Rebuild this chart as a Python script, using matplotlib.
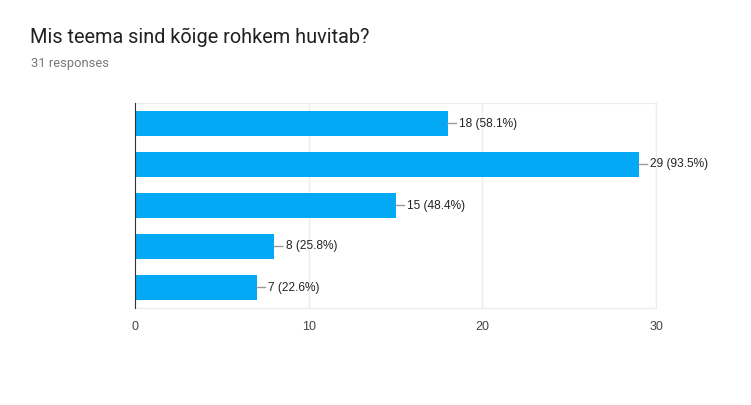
import matplotlib.pyplot as plt
import numpy as np

title = "Mis teema sind kõige rohkem huvitab?"
subtitle = "31 responses"
categories = ["", "", "", "", ""]
counts = [18, 29, 15, 8, 7]
percents = [58.1, 93.5, 48.4, 25.8, 22.6]
xticks = [0, 10, 20, 30]

bar_color = "#03a9f4"
grid_color = "#ebebeb"

fig = plt.figure(figsize=(7.51, 4.05), dpi=100)
ax = fig.add_axes([135 / 751, 97 / 405, 521 / 751, 205 / 405])

y = np.arange(len(counts))
ax.barh(y, counts, height=0.6, color=bar_color, zorder=3)

# value labels with a short leader line
for yi, c, p in zip(y, counts, percents):
    ax.annotate(f"{c} ({p}%)", xy=(c, yi), xytext=(8.5, 0), textcoords="offset points",
                va="center", ha="left", fontsize=8.6, color="#222222",
                family="Liberation Sans",
                arrowprops=dict(arrowstyle="-", color="#999999", lw=1,
                                shrinkA=0, shrinkB=0))

ax.set_xlim(0, 30)
ax.set_ylim(len(counts) - 0.5, -0.5)
ax.set_xticks(xticks)
ax.set_xticklabels([str(t) for t in xticks], family="Liberation Sans", fontsize=9, color="#444444")
ax.set_yticks(y)
ax.set_yticklabels(categories)
ax.tick_params(length=0, pad=9)
ax.grid(axis="x", color=grid_color, lw=1, zorder=0)

for side in ["top", "right", "bottom"]:
    ax.spines[side].set_color(grid_color)
ax.spines["left"].set_color("#333333")
ax.spines["left"].set_zorder(4)

fig.text(30 / 751, 1 - 37 / 405, title, fontsize=14.3, family="Roboto",
         color="#202124", va="center", ha="left")
fig.text(31 / 751, 1 - 64 / 405, subtitle, fontsize=9.3, family="Roboto",
         color="#777777", va="center", ha="left")

fig.savefig("out.png", dpi=100, facecolor="white")
